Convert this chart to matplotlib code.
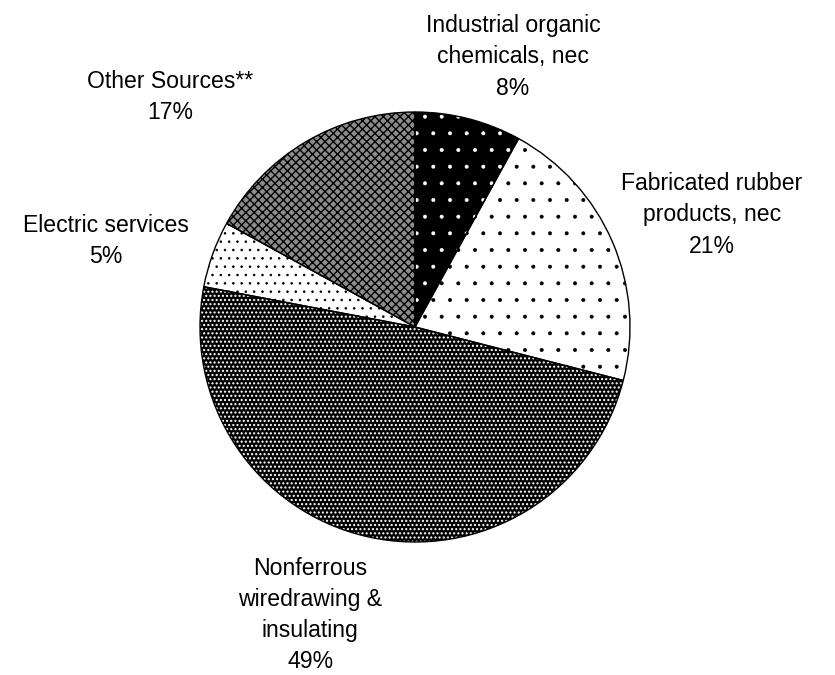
import matplotlib
matplotlib.use('Agg')
import matplotlib.pyplot as plt

plt.rcParams['font.family'] = ['Liberation Sans', 'DejaVu Sans']

labels = ['Industrial organic\nchemicals, nec', 'Fabricated rubber\nproducts, nec',
          'Nonferrous\nwiredrawing &\ninsulating', 'Electric services', 'Other Sources**']
shares = [8, 21, 49, 5, 17]
# label centres in axes data units (pie radius = 1)
label_pos = [(0.456, 1.256), (1.381, 0.521), (-0.488, -1.34), (-1.437, 0.40), (-1.14, 1.07)]

faces = ['black', 'white', 'black', 'white', '#8c8c8c']
hatch_cols = ['white', 'black', 'white', 'black', 'black']
hatches = ['.', '.', '....', '..', 'xxxx']
hatch_lw = [0.4, 0.4, 1.0, 0.6, 1.0]

fig = plt.figure(figsize=(8.35, 6.75), dpi=100)
cx, cy, r = 415, 327, 215
ax = fig.add_axes([(cx - r) / 835, (675 - cy - r) / 675, 2 * r / 835, 2 * r / 675])

wedges = []
for i in range(len(shares)):
    plt.rcParams['hatch.linewidth'] = hatch_lw[i]
    ws, _ = ax.pie(shares, startangle=90, counterclock=False, radius=1)
    for j, w in enumerate(ws):
        if j != i:
            w.remove()
    w = ws[i]
    w.set_facecolor(faces[i])
    w.set_edgecolor(hatch_cols[i])
    w.set_hatch(hatches[i])
    w.set_linewidth(0)
    if hasattr(w, 'set_hatch_linewidth'):
        w.set_hatch_linewidth(hatch_lw[i])
    wedges.append(w)

# outlines drawn on top, since the edge colour carries the hatch colour
outl, _ = ax.pie(shares, startangle=90, counterclock=False, radius=1,
                 wedgeprops=dict(fill=False, edgecolor='black', linewidth=1))

for lab, s, (x, y) in zip(labels, shares, label_pos):
    ax.text(x, y, f'{lab}\n{s}%', ha='center', va='center', fontsize=16.6,
            linespacing=1.45, clip_on=False)

ax.set_xlim(-1, 1)
ax.set_ylim(-1, 1)
ax.set_axis_off()
fig.savefig('out.png', dpi=100)
